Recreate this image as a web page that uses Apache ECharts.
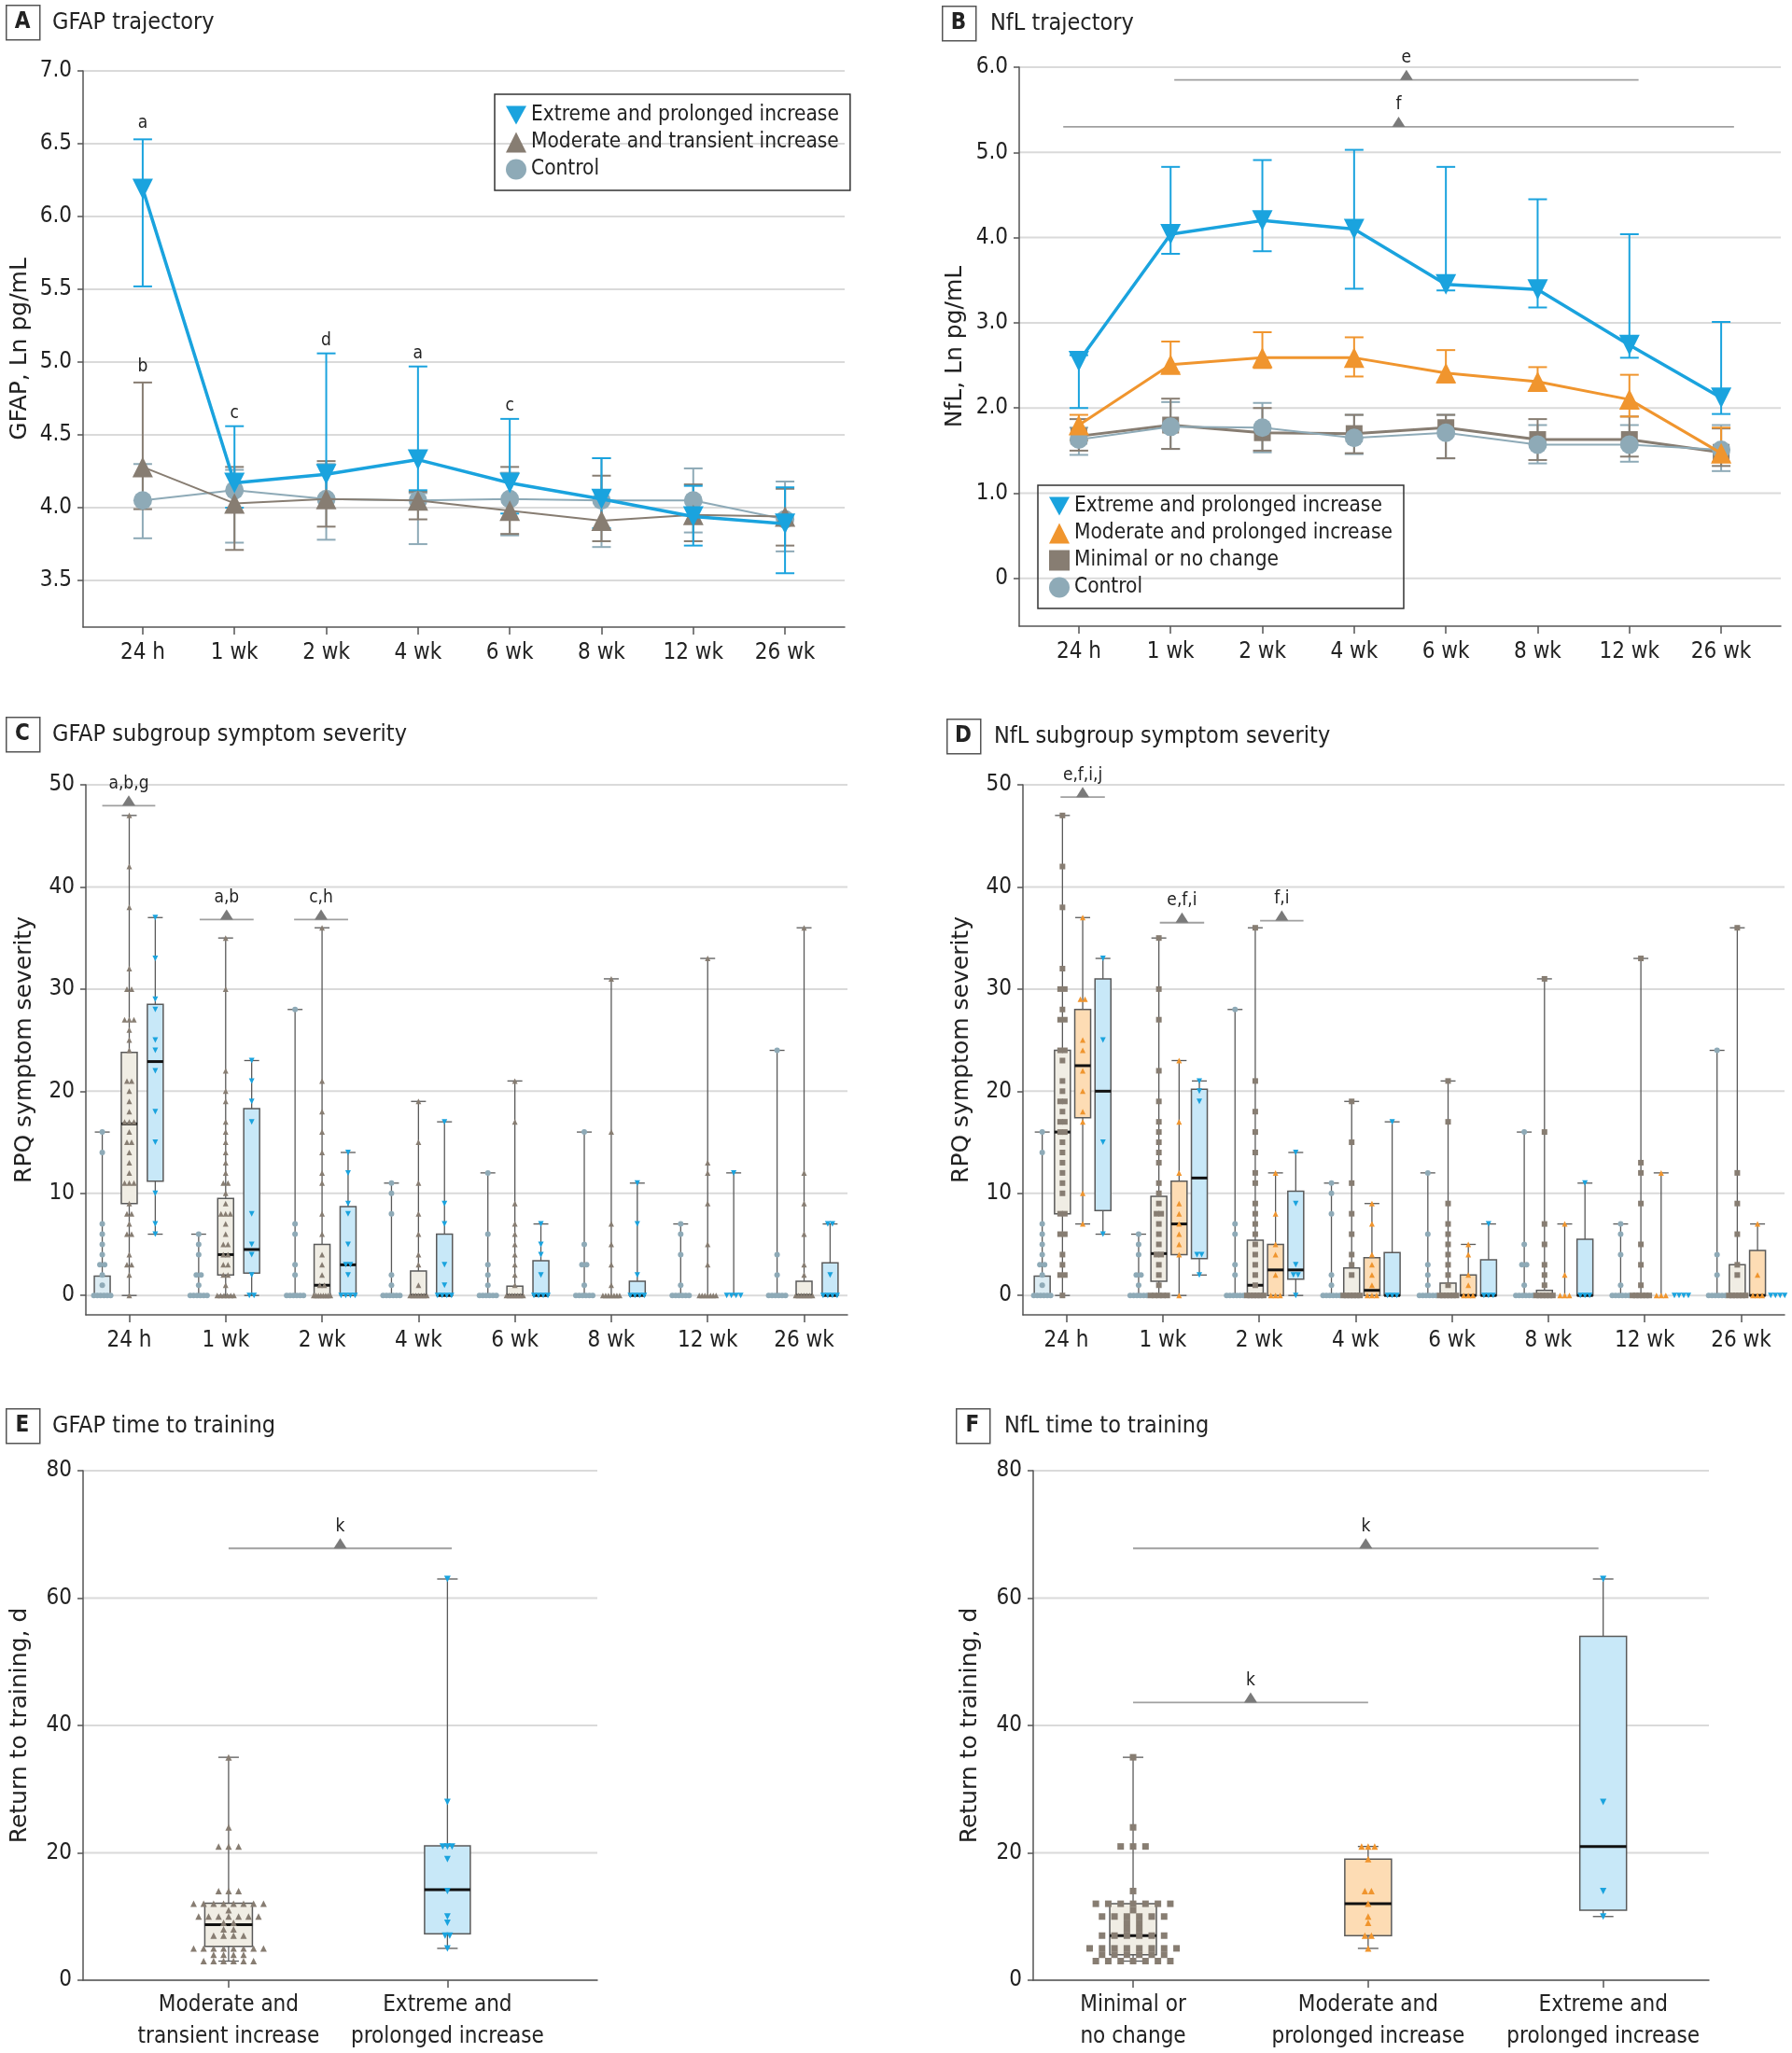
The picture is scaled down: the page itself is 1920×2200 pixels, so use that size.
<!DOCTYPE html>
<html>
<head>
<meta charset="utf-8">
<script src="https://cdn.jsdelivr.net/npm/echarts@6/dist/echarts.min.js"></script>
<style>
  html, body { margin: 0; background: #fff; }
  #chart { width: 1920px; height: 2200px; }
</style>
</head>
<body>
<div id="chart"></div>
<script>
// ---------- data ----------
var timepoints = ['24 h', '1 wk', '2 wk', '4 wk', '6 wk', '8 wk', '12 wk', '26 wk'];

// A: GFAP trajectory (Ln pg/mL), estimate and interval bounds
var gfapExtreme    = [6.19, 4.17, 4.23, 4.33, 4.17, 4.06, 3.94, 3.89];
var gfapExtremeLo  = [5.52, 4.00, 4.06, 4.12, 3.96, 3.86, 3.74, 3.55];
var gfapExtremeHi  = [6.53, 4.56, 5.06, 4.97, 4.61, 4.34, 4.15, 4.14];
var gfapModerate   = [4.28, 4.03, 4.06, 4.05, 3.98, 3.91, 3.95, 3.94];
var gfapModerateLo = [3.99, 3.71, 3.87, 3.92, 3.82, 3.77, 3.77, 3.74];
var gfapModerateHi = [4.86, 4.28, 4.32, 4.11, 4.28, 4.22, 4.16, 4.13];
var gfapControl    = [4.05, 4.12, 4.06, 4.05, 4.06, 4.05, 4.05, 3.92];
var gfapControlLo  = [3.79, 3.76, 3.78, 3.75, 3.81, 3.73, 3.83, 3.70];
var gfapControlHi  = [4.30, 4.26, 4.30, 4.10, 4.24, 4.34, 4.27, 4.18];
var gfapLetterText = ['a', 'b', 'c', 'd', 'a', 'c'];
var gfapLetterPos  = [[0, 6.64], [0, 4.97], [1, 4.65], [2, 5.15], [3, 5.06], [4, 4.70]];

// B: NfL trajectory (Ln pg/mL)
var nflExtreme    = [2.55, 4.04, 4.20, 4.10, 3.45, 3.39, 2.74, 2.12];
var nflExtremeLo  = [2.00, 3.81, 3.84, 3.40, 3.38, 3.18, 2.59, 1.93];
var nflExtremeHi  = [2.62, 4.83, 4.91, 5.03, 4.83, 4.45, 4.04, 3.01];
var nflModerate   = [1.80, 2.51, 2.59, 2.59, 2.41, 2.31, 2.10, 1.47];
var nflModerateLo = [1.62, 2.42, 2.47, 2.37, 2.30, 2.20, 1.90, 1.37];
var nflModerateHi = [1.92, 2.78, 2.89, 2.83, 2.68, 2.48, 2.39, 1.77];
var nflMinimal    = [1.67, 1.80, 1.71, 1.70, 1.77, 1.63, 1.63, 1.48];
var nflMinimalLo  = [1.50, 1.52, 1.50, 1.47, 1.41, 1.39, 1.43, 1.32];
var nflMinimalHi  = [1.87, 2.11, 2.00, 1.92, 1.92, 1.87, 1.90, 1.76];
var nflControl    = [1.63, 1.78, 1.77, 1.65, 1.71, 1.57, 1.57, 1.51];
var nflControlLo  = [1.45, 1.52, 1.48, 1.46, 1.41, 1.35, 1.37, 1.26];
var nflControlHi  = [1.77, 2.07, 2.06, 1.92, 1.92, 1.80, 1.80, 1.80];
var nflBrackets   = [[1.04, 6.1, 5.85], [-0.17, 7.14, 5.30]];
var nflBracketText = ['e', 'f'];

// C / D: RPQ symptom severity, box stats [min, q1, median, q3, max]
var controlSevBox = [[0,0,0,1.9,16],[0,0,0,0,6],[0,0,0,0,28],[0,0,0,0,11],[0,0,0,0,12],[0,0,0,0,16],[0,0,0,0,7],[0,0,0,0,24]];
var gfapSevModerateBox = [[0,9,16.8,23.8,47],[0,2,4,9.5,35],[0,0,1,5,36],[0,0,0,2.4,19],[0,0,0,0.9,21],[0,0,0,0,31],[0,0,0,0,33],[0,0,0,1.4,36]];
var gfapSevExtremeBox  = [[6,11.2,22.9,28.5,37],[0,2.2,4.5,18.3,23],[0,0,3,8.7,14],[0,0,0,6,17],[0,0,0,3.4,7],[0,0,0,1.4,11],[0,0,0,0,12],[0,0,0,3.2,7]];
var nflSevMinimalBox  = [[0,8,16,24,47],[0,1.4,4.1,9.7,35],[0,0,1,5.4,36],[0,0,0,2.7,19],[0,0,0,1.2,21],[0,0,0,0.5,31],[0,0,0,0,33],[0,0,0,3,36]];
var nflSevModerateBox = [[7,17.4,22.5,28,37],[0,4,7,11.2,23],[0,0,2.5,5,12],[0,0,0.5,3.7,9],[0,0,0,2,5],[0,0,0,0,7],[0,0,0,0,12],[0,0,0,4.4,7]];
var nflSevExtremeBox  = [[6,8.3,20,31,33],[2,3.6,11.5,20.2,21],[0,1.6,2.5,10.2,14],[0,0,0,4.2,17],[0,0,0,3.5,7],[0,0,0,5.5,11],[0,0,0,0,0],[0,0,0,0,0]];

// individual scores per time point
var controlSevPts = [
  [16,14,7,6,5,4,3,3,2,1,0,0,0,0,0,0],
  [6,5,4,2,2,1,0,0,0,0,0,0],
  [28,7,6,3,2,0,0,0,0,0,0],
  [11,10,8,2,1,0,0,0,0,0,0],
  [12,6,3,2,1,0,0,0,0,0,0],
  [16,5,3,3,1,0,0,0,0,0,0],
  [7,6,4,1,0,0,0,0,0,0],
  [24,4,2,0,0,0,0,0,0]
];
var gfapSevModeratePts = [
  [47,42,38,32,30,30,27,27,27,26,25,24,21,21,20,19,18,17,17,17,16,15,15,14,13,12,11,11,11,9,8,8,7,6,6,4,3,3,2,0],
  [35,30,22,20,19,17,16,15,14,13,12,11,11,10,9,8,8,8,7,6,5,5,4,4,3,3,2,2,1,0,0,0,0,0,0],
  [36,21,18,16,14,12,11,8,6,4,3,2,1,1,0,0,0,0,0,0,0,0],
  [19,15,11,8,6,4,3,1,0,0,0,0,0,0,0],
  [21,17,9,7,6,5,4,3,2,1,0,0,0,0,0,0,0],
  [31,16,7,5,3,1,0,0,0,0,0,0,0],
  [33,13,12,9,5,3,0,0,0,0,0,0,0],
  [36,12,9,6,3,2,0,0,0,0,0,0,0]
];
var gfapSevExtremePts = [
  [37,33,29,28,25,24,22,18,15,10,7,6],
  [23,21,19,17,8,5,4,2,0,0],
  [14,12,9,8,5,3,3,2,0,0,0,0],
  [17,9,7,3,1,0,0,0,0],
  [7,5,4,2,0,0,0,0],
  [11,7,2,0,0,0,0],
  [12,0,0,0,0],
  [7,7,2,0,0,0,0]
];
var nflSevMinimalPts = [
  [47,42,38,32,30,30,28,27,27,24,24,23,21,20,19,19,18,17,17,16,16,15,14,13,12,11,10,8,8,6,6,4,3,2,2,0],
  [35,30,27,22,19,17,16,15,14,13,11,10,9,8,8,7,6,5,4,4,3,2,1,0,0,0,0,0],
  [36,21,18,16,14,12,11,9,8,7,6,5,4,3,2,1,0,0,0,0,0,0],
  [19,15,11,8,6,4,3,2,0,0,0,0,0,0],
  [21,17,9,7,6,5,4,3,2,1,0,0,0,0,0,0],
  [31,16,7,5,3,2,1,0,0,0,0,0,0],
  [33,13,12,9,5,3,1,0,0,0,0,0,0],
  [36,12,9,6,3,2,0,0,0,0,0,0]
];
var nflSevModeratePts = [
  [37,29,29,25,24,22,20,18,17,10,7],
  [23,17,12,9,8,7,6,5,4,0],
  [12,8,5,4,2,0,0,0],
  [9,7,4,3,2,1,0,0,0],
  [5,4,2,1,0,0,0],
  [7,2,0,0,0],
  [12,0,0,0],
  [7,2,0,0,0]
];
var nflSevExtremePts = [
  [33,25,15,6],
  [21,20,19,4,4,2],
  [14,9,3,2,2,0],
  [17,0,0,0],
  [7,0,0,0],
  [11,0,0,0],
  [0,0,0,0],
  [0,0,0,0]
];
var gfapSevBrackets = [[-0.28, 0.27, 47.96], [0.73, 1.29, 36.8], [1.71, 2.27, 36.8]];
var gfapSevBracketText = ['a,b,g', 'a,b', 'c,h'];
var nflSevBrackets = [[-0.06, 0.40, 48.8], [0.97, 1.43, 36.5], [2.01, 2.46, 36.7]];
var nflSevBracketText = ['e,f,i,j', 'e,f,i', 'f,i'];

// E / F: return to training (days)
var gfapRttGroups = ['Moderate and\ntransient increase', 'Extreme and\nprolonged increase'];
var gfapRttBox = [[3, 5.3, 8.7, 12.1, 35], [5, 7.3, 14.2, 21.1, 63]];
var gfapRttModeratePts = [35,24,21,21,21,14,14,14,12,12,12,12,12,12,12,12,11,10,10,10,10,10,10,10,9,9,8,8,7,7,7,7,5,5,5,5,5,5,5,5,4,4,4,4,3,3,3,3,3,3];
var gfapRttExtremePts = [63,28,21,21,21,19,14,10,9,7,7,5];
var gfapRttBrackets = [[0, 1.02, 67.8]];

var nflRttGroups = ['Minimal or\nno change', 'Moderate and\nprolonged increase', 'Extreme and\nprolonged increase'];
var nflRttBox = [[3, 4, 7, 12, 35], [5, 7, 12, 19, 21], [10, 11, 21, 54, 63]];
var nflRttMinimalPts = [35,24,21,21,21,14,12,12,12,12,12,12,12,11,10,10,10,10,10,10,9,9,8,8,7,7,7,7,7,7,5,5,5,5,5,5,5,5,4,4,4,4,4,4,3,3,3,3,3,3,3];
var nflRttModeratePts = [21,21,21,19,14,14,12,10,9,7,7,5];
var nflRttExtremePts = [63,28,14,10];
var nflRttBrackets = [[0, 1.98, 67.8], [0, 1.0, 43.6]];

// ---------- styles ----------
var NARROW = "'Liberation Sans Narrow', 'DejaVu Sans Condensed', 'Roboto Condensed', Roboto, sans-serif";
var WIDE = "'DejaVu Sans', Verdana, sans-serif";
var INK = '#222';
var AXIS = '#555';
var BLUE = '#1aa3de', BROWN = '#877d72', CTRL = '#8eaab7', ORANGE = '#f0952e';
var BLUE_FILL = '#c8e8f8', BEIGE_FILL = '#f0ede4', ORANGE_FILL = '#fddcb4', CTRL_FILL = '#dcecf3';
var DOWN = 'path://M0,0L10,0L5,9Z';

var grids = [
  { left: 89,   top: 76,   width: 816, height: 596 },  // A
  { left: 1092, top: 72,   width: 816, height: 599 },  // B
  { left: 92,   top: 841,  width: 816, height: 568 },  // C
  { left: 1096, top: 841,  width: 816, height: 568 },  // D
  { left: 89,   top: 1576, width: 551, height: 548 },  // E
  { left: 1107, top: 1576, width: 724, height: 548 }   // F
];

function range(n) { var a = []; for (var i = 0; i < n; i++) a.push(i); return a; }

function catAxis(g, min, max, names, lineHeight) {
  var idx = range(names.length);
  return {
    type: 'value', gridIndex: g, min: min, max: max,
    axisLine: { show: true, onZero: false, lineStyle: { color: AXIS, width: 1.5 } },
    axisTick: { show: true, customValues: idx, length: 8, lineStyle: { color: AXIS, width: 1.5 } },
    axisLabel: {
      customValues: idx, formatter: function (v) { return names[Math.round(v)]; },
      margin: lineHeight ? 10 : 14, color: INK, fontFamily: NARROW, fontSize: 24, lineHeight: lineHeight || 28
    },
    splitLine: { show: false }
  };
}

function valAxis(g, min, max, ticks, fmt, name, gap) {
  return {
    type: 'value', gridIndex: g, min: min, max: max,
    name: name, nameLocation: 'middle', nameGap: gap, nameRotate: 90,
    nameTextStyle: { fontFamily: WIDE, fontSize: 25, color: INK },
    axisLine: { show: true, onZero: false, lineStyle: { color: AXIS, width: 1.5 } },
    axisTick: { show: true, customValues: ticks, length: 6, lineStyle: { color: AXIS, width: 1.5 } },
    axisLabel: { customValues: ticks, formatter: fmt, margin: 12, color: INK, fontFamily: NARROW, fontSize: 24 },
    splitLine: { show: false }
  };
}

// horizontal grid lines drawn across the plot area
function gridLines(g, ticks) {
  return {
    type: 'custom', xAxisIndex: g, yAxisIndex: g, z: 0, silent: true,
    data: ticks.map(function (v) { return [0, v]; }),
    renderItem: function (params, api) {
      var cs = params.coordSys;
      var y = api.coord([0, api.value(1)])[1];
      return { type: 'line', shape: { x1: cs.x, y1: y, x2: cs.x + cs.width, y2: y },
               style: { stroke: '#dadada', lineWidth: 2 } };
    }
  };
}

function errorBars(g, lo, hi, color, z) {
  return {
    type: 'custom', xAxisIndex: g, yAxisIndex: g, z: z, silent: true,
    data: lo.map(function (l, i) { return [i, l, hi[i]]; }),
    renderItem: function (params, api) {
      var a = api.coord([api.value(0), api.value(1)]);
      var b = api.coord([api.value(0), api.value(2)]);
      var st = { stroke: color, lineWidth: 2 };
      return { type: 'group', children: [
        { type: 'line', shape: { x1: a[0], y1: a[1], x2: b[0], y2: b[1] }, style: st },
        { type: 'line', shape: { x1: a[0] - 10, y1: a[1], x2: a[0] + 10, y2: a[1] }, style: st },
        { type: 'line', shape: { x1: b[0] - 10, y1: b[1], x2: b[0] + 10, y2: b[1] }, style: st }
      ] };
    }
  };
}

function trajLine(g, name, vals, symbol, size, color, width, z) {
  return {
    type: 'line', name: name, xAxisIndex: g, yAxisIndex: g, z: z,
    data: vals.map(function (v, i) { return [i, v]; }),
    symbol: symbol, symbolSize: size, itemStyle: { color: color },
    lineStyle: { color: color, width: width }, emphasis: { disabled: true }
  };
}

function boxes(g, stats, offset, fill, boxPx, capPx) {
  return {
    type: 'custom', xAxisIndex: g, yAxisIndex: g, z: 2, silent: true,
    data: stats.map(function (s, i) { return [i + offset, s[0], s[1], s[2], s[3], s[4]]; }),
    renderItem: function (params, api) {
      var x = api.value(0);
      var pMin = api.coord([x, api.value(1)]), pQ1 = api.coord([x, api.value(2)]);
      var pMed = api.coord([x, api.value(3)]), pQ3 = api.coord([x, api.value(4)]);
      var pMax = api.coord([x, api.value(5)]);
      var cx = pMin[0], h = boxPx / 2, c = capPx / 2;
      var wl = { stroke: '#5a5a5a', lineWidth: 1.3 };
      var ch = [];
      if (pMax[1] < pQ3[1] - 0.5) {
        ch.push({ type: 'line', shape: { x1: cx, y1: pQ3[1], x2: cx, y2: pMax[1] }, style: wl });
        ch.push({ type: 'line', shape: { x1: cx - c, y1: pMax[1], x2: cx + c, y2: pMax[1] }, style: wl });
      }
      if (pMin[1] > pQ1[1] + 0.5) {
        ch.push({ type: 'line', shape: { x1: cx, y1: pQ1[1], x2: cx, y2: pMin[1] }, style: wl });
        ch.push({ type: 'line', shape: { x1: cx - c, y1: pMin[1], x2: cx + c, y2: pMin[1] }, style: wl });
      }
      if (pQ1[1] - pQ3[1] > 0.5) {
        ch.push({ type: 'rect', shape: { x: cx - h, y: pQ3[1], width: boxPx, height: pQ1[1] - pQ3[1] },
                  style: { fill: fill, stroke: '#5a5a5a', lineWidth: 1.5 } });
        ch.push({ type: 'line', shape: { x1: cx - h, y1: pMed[1], x2: cx + h, y2: pMed[1] },
                  style: { stroke: '#111', lineWidth: 3 } });
      }
      return { type: 'group', children: ch };
    }
  };
}

// spread tied values side by side
function swarm(values, x, spacing, maxSpread) {
  var counts = {}, seen = {};
  values.forEach(function (v) { counts[v] = (counts[v] || 0) + 1; });
  return values.map(function (v) {
    var k = counts[v];
    seen[v] = seen[v] === undefined ? 0 : seen[v] + 1;
    var step = spacing;
    if (maxSpread && k > 1 && (k - 1) * step > maxSpread) step = maxSpread / (k - 1);
    return { value: [x, v], symbolOffset: [(seen[v] - (k - 1) / 2) * step, 0] };
  });
}

function points(g, groups, offset, symbol, color, size, spacing, maxSpread) {
  var data = [];
  groups.forEach(function (vals, i) { data = data.concat(swarm(vals, i + offset, spacing, maxSpread)); });
  return {
    type: 'scatter', xAxisIndex: g, yAxisIndex: g, z: 3, silent: true,
    symbol: symbol, symbolSize: size, itemStyle: { color: color, opacity: 1 }, data: data
  };
}

function brackets(g, list, labels, color) {
  return {
    type: 'custom', xAxisIndex: g, yAxisIndex: g, z: 6, silent: true, clip: false,
    data: list,
    renderItem: function (params, api) {
      var a = api.coord([api.value(0), api.value(2)]);
      var b = api.coord([api.value(1), api.value(2)]);
      var mx = (a[0] + b[0]) / 2, y = a[1];
      return { type: 'group', children: [
        { type: 'line', shape: { x1: a[0], y1: y, x2: b[0], y2: y }, style: { stroke: color || '#a0a0a0', lineWidth: 1.8 } },
        { type: 'polygon', shape: { points: [[mx - 7, y], [mx + 7, y], [mx, y - 11]] }, style: { fill: '#7a7a7a' } },
        { type: 'text', x: mx, y: y - 14, style: { text: labels[params.dataIndex], fill: INK,
          fontFamily: NARROW, fontSize: 19, textAlign: 'center', textVerticalAlign: 'bottom' } }
      ] };
    }
  };
}

function letters(g, pos, text) {
  return {
    type: 'custom', xAxisIndex: g, yAxisIndex: g, z: 6, silent: true, clip: false,
    data: pos,
    renderItem: function (params, api) {
      var p = api.coord([api.value(0), api.value(1)]);
      return { type: 'text', x: p[0], y: p[1], style: { text: text[params.dataIndex], fill: INK,
        fontFamily: NARROW, fontSize: 19, textAlign: 'center', textVerticalAlign: 'middle' } };
    }
  };
}

// panel headers
var headers = [
  { letter: 'A', x: 6,    y: 5,    tx: 56,   text: 'GFAP trajectory' },
  { letter: 'B', x: 1009, y: 6,    tx: 1061, text: 'NfL trajectory' },
  { letter: 'C', x: 6,    y: 768,  tx: 56,   text: 'GFAP subgroup symptom severity' },
  { letter: 'D', x: 1014, y: 770,  tx: 1065, text: 'NfL subgroup symptom severity' },
  { letter: 'E', x: 6,    y: 1509, tx: 56,   text: 'GFAP time to training' },
  { letter: 'F', x: 1024, y: 1509, tx: 1076, text: 'NfL time to training' }
];
var graphic = [];
headers.forEach(function (h) {
  graphic.push({ type: 'rect', left: h.x, top: h.y, shape: { width: 36, height: 37 },
                 style: { fill: '#fff', stroke: '#555', lineWidth: 1.5 } });
  graphic.push({ type: 'text', x: h.x + 18, y: h.y + 19,
                 style: { text: h.letter, fill: INK, font: 'bold 24px ' + NARROW, textAlign: 'center', textVerticalAlign: 'middle' } });
  graphic.push({ type: 'text', x: h.tx, y: h.y + 19,
                 style: { text: h.text, fill: INK, font: '25px ' + NARROW, textAlign: 'left', textVerticalAlign: 'middle' } });
});

var gfapTicks = [3.5, 4.0, 4.5, 5.0, 5.5, 6.0, 6.5, 7.0];
var nflTicks = [0, 1, 2, 3, 4, 5, 6];
var sevTicks = [0, 10, 20, 30, 40, 50];
var rttTicks = [0, 20, 40, 60, 80];
var fixed1 = function (v) { return v.toFixed(1); };
var nflFmt = function (v) { return v === 0 ? '0' : v.toFixed(1); };
var intFmt = function (v) { return String(v); };

var legendText = { fontFamily: NARROW, fontSize: 22.5, color: INK };

var option = {
  animation: false,
  backgroundColor: '#fff',
  grid: grids,
  graphic: graphic,
  legend: [
    {
      left: 530, top: 101, orient: 'vertical', selectedMode: false,
      itemWidth: 22, itemHeight: 22, itemGap: 6, padding: [11, 12, 11, 12],
      borderColor: '#333', borderWidth: 1.5, textStyle: legendText,
      data: [
        { name: 'Extreme and prolonged increase', icon: DOWN },
        { name: 'Moderate and transient increase', icon: 'triangle' },
        { name: 'Control', icon: 'circle' }
      ]
    },
    {
      left: 1112, top: 520, orient: 'vertical', selectedMode: false,
      itemWidth: 22, itemHeight: 22, itemGap: 6, padding: [11, 12, 11, 12],
      borderColor: '#333', borderWidth: 1.5, textStyle: legendText,
      data: [
        { name: 'Extreme and prolonged increase', icon: DOWN },
        { name: 'Moderate and prolonged increase', icon: 'triangle' },
        { name: 'Minimal or no change', icon: 'rect' },
        { name: 'Control', icon: 'circle' }
      ]
    }
  ],
  xAxis: [
    catAxis(0, -0.65, 7.65, timepoints),
    catAxis(1, -0.65, 7.65, timepoints),
    catAxis(2, -0.45, 7.45, timepoints),
    catAxis(3, -0.45, 7.45, timepoints),
    catAxis(4, -0.665, 1.685, gfapRttGroups, 34),
    catAxis(5, -0.425, 2.45, nflRttGroups, 34)
  ],
  yAxis: [
    valAxis(0, 3.18, 7.0, gfapTicks, fixed1, 'GFAP, Ln pg/mL', 55),
    valAxis(1, -0.56, 6.0, nflTicks, nflFmt, 'NfL, Ln pg/mL', 56),
    valAxis(2, -1.9, 50, sevTicks, intFmt, 'RPQ symptom severity', 53),
    valAxis(3, -1.9, 50, sevTicks, intFmt, 'RPQ symptom severity', 53),
    valAxis(4, 0, 80, rttTicks, intFmt, 'Return to training, d', 55),
    valAxis(5, 0, 80, rttTicks, intFmt, 'Return to training, d', 55)
  ],
  series: [
    // A
    gridLines(0, gfapTicks),
    errorBars(0, gfapControlLo, gfapControlHi, CTRL, 2),
    errorBars(0, gfapModerateLo, gfapModerateHi, BROWN, 2),
    errorBars(0, gfapExtremeLo, gfapExtremeHi, BLUE, 2),
    trajLine(0, 'Control', gfapControl, 'circle', 20, CTRL, 2, 3),
    trajLine(0, 'Moderate and transient increase', gfapModerate, 'triangle', 22, BROWN, 2, 4),
    trajLine(0, 'Extreme and prolonged increase', gfapExtreme, DOWN, 22, BLUE, 3.5, 5),
    letters(0, gfapLetterPos, gfapLetterText),
    // B
    gridLines(1, nflTicks),
    errorBars(1, nflControlLo, nflControlHi, CTRL, 2),
    errorBars(1, nflMinimalLo, nflMinimalHi, BROWN, 2),
    errorBars(1, nflModerateLo, nflModerateHi, ORANGE, 2),
    errorBars(1, nflExtremeLo, nflExtremeHi, BLUE, 2),
    trajLine(1, 'Minimal or no change', nflMinimal, 'rect', 18, BROWN, 3, 3),
    trajLine(1, 'Control', nflControl, 'circle', 20, CTRL, 2, 4),
    trajLine(1, 'Moderate and prolonged increase', nflModerate, 'triangle', 22, ORANGE, 3, 5),
    trajLine(1, 'Extreme and prolonged increase', nflExtreme, DOWN, 22, BLUE, 3.5, 6),
    brackets(1, nflBrackets, nflBracketText),
    // C
    gridLines(2, sevTicks),
    boxes(2, controlSevBox, -0.28, CTRL_FILL, 17, 16),
    boxes(2, gfapSevModerateBox, 0, BEIGE_FILL, 17, 16),
    boxes(2, gfapSevExtremeBox, 0.27, BLUE_FILL, 17, 16),
    points(2, controlSevPts, -0.28, 'circle', CTRL, 6, 5, 18),
    points(2, gfapSevModeratePts, 0, 'triangle', BROWN, 6, 5, 18),
    points(2, gfapSevExtremePts, 0.27, DOWN, BLUE, 6, 5, 18),
    brackets(2, gfapSevBrackets, gfapSevBracketText),
    // D
    gridLines(3, sevTicks),
    boxes(3, controlSevBox, -0.25, CTRL_FILL, 17, 16),
    boxes(3, nflSevMinimalBox, -0.04, BEIGE_FILL, 17, 16),
    boxes(3, nflSevModerateBox, 0.17, ORANGE_FILL, 17, 16),
    boxes(3, nflSevExtremeBox, 0.38, BLUE_FILL, 17, 16),
    points(3, controlSevPts, -0.25, 'circle', CTRL, 6, 5, 18),
    points(3, nflSevMinimalPts, -0.04, 'rect', BROWN, 6, 5, 18),
    points(3, nflSevModeratePts, 0.17, 'triangle', ORANGE, 6, 5, 18),
    points(3, nflSevExtremePts, 0.38, DOWN, BLUE, 6, 5, 18),
    brackets(3, nflSevBrackets, nflSevBracketText),
    // E
    gridLines(4, rttTicks),
    boxes(4, [gfapRttBox[0]], 0, BEIGE_FILL, 51, 22),
    boxes(4, [gfapRttBox[1]], 1, BLUE_FILL, 49, 22),
    points(4, [gfapRttModeratePts], 0, 'triangle', BROWN, 7, 10.7),
    points(4, [gfapRttExtremePts], 1, DOWN, BLUE, 7, 5),
    brackets(4, gfapRttBrackets, ['k']),
    // F
    gridLines(5, rttTicks),
    boxes(5, [nflRttBox[0]], 0, BEIGE_FILL, 50, 22),
    boxes(5, [nflRttBox[1]], 1, ORANGE_FILL, 50, 22),
    boxes(5, [nflRttBox[2]], 2, BLUE_FILL, 50, 22),
    points(5, [nflRttMinimalPts], 0, 'rect', BROWN, 7, 13.3),
    points(5, [nflRttModeratePts], 1, 'triangle', ORANGE, 7, 7),
    points(5, [nflRttExtremePts], 2, DOWN, BLUE, 7, 5),
    brackets(5, nflRttBrackets, ['k', 'k'])
  ]
};

var chart = echarts.init(document.getElementById('chart'), null, { renderer: 'canvas' });
chart.setOption(option);
</script>
</body>
</html>
